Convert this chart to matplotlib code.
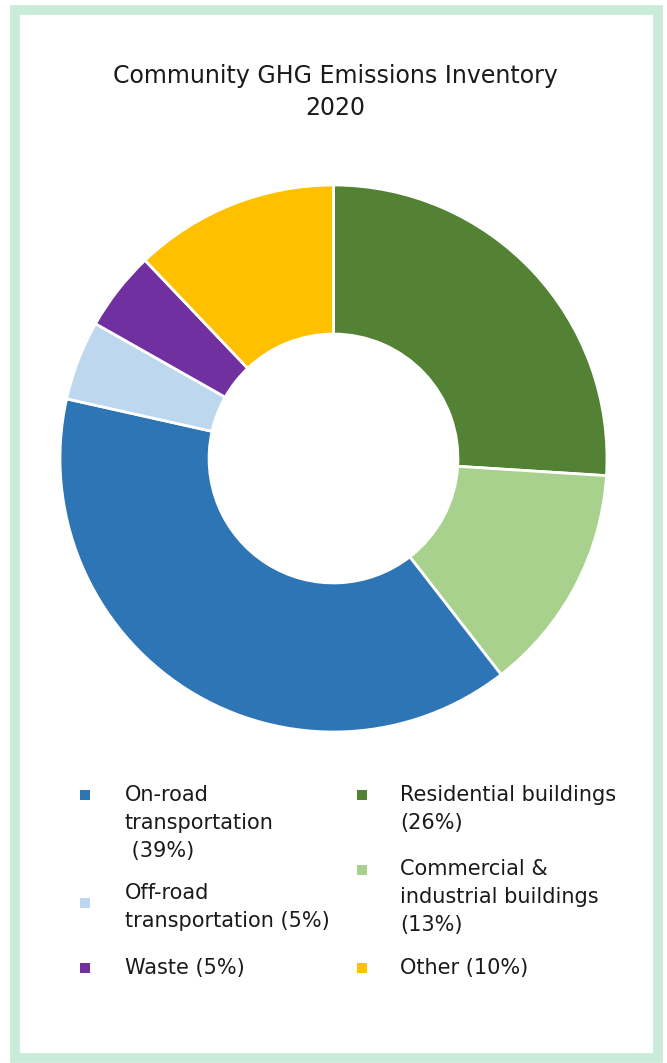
import matplotlib.pyplot as plt
import matplotlib.patches as mpatches

W, H = 667, 1063

# slices, clockwise from 12 o'clock
sectors = ["Residential buildings", "Commercial & industrial buildings",
           "On-road transportation", "Off-road transportation", "Waste", "Other"]
shares = [26.0, 13.5, 39.0, 4.7, 4.7, 12.1]
colors = ["#548235", "#a9d18e", "#2e75b6", "#bdd7ee", "#7030a0", "#ffc000"]

# legend text as printed (left column, right column)
legend_left = [("On-road\ntransportation\n (39%)", "#2e75b6"),
               ("Off-road\ntransportation (5%)", "#bdd7ee"),
               ("Waste (5%)", "#7030a0")]
legend_right = [("Residential buildings\n(26%)", "#548235"),
                ("Commercial &\nindustrial buildings\n(13%)", "#a9d18e"),
                ("Other (10%)", "#ffc000")]

plt.rcParams["font.family"] = ["DejaVu Sans"]

fig = plt.figure(figsize=(W / 100, H / 100), dpi=100)
fig.patch.set_facecolor("white")


def fx(px):
    return px / W


def fy(py):
    return 1 - py / H


# light green frame
frame = mpatches.Rectangle((fx(14.5), fy(1058)), fx(657.5) - fx(14.5), fy(9.5) - fy(1058),
                           transform=fig.transFigure, fill=False,
                           edgecolor="#c9ebda", linewidth=7)
fig.patches.append(frame)

fig.text(fx(335), fy(92), "Community GHG Emissions Inventory\n2020",
         ha="center", va="center", fontsize=17, color="#1a1a1a",
         linespacing=1.45)

# donut
cx, cy, r = 333.5, 458.5, 273.5
ax = fig.add_axes([fx(cx - r), fy(cy + r), 2 * r / W, 2 * r / H])
ax.pie(shares, colors=colors, startangle=90, counterclock=False, radius=1,
       wedgeprops=dict(width=0.545, edgecolor="white", linewidth=2))
ax.set_xlim(-1.0, 1.0)
ax.set_ylim(-1.0, 1.0)
ax.axis("off")

# legend, drawn by hand (y = centre of the first text line)
rows_left = [795, 893, 968]
marks_left = [795, 903, 968]
rows_right = [795, 869, 968]
marks_right = [795, 870, 968]

fs = 15
for col_x, txt_x, entries, rows, marks in [
        (80, 125, legend_left, rows_left, marks_left),
        (357, 400, legend_right, rows_right, marks_right)]:
    for (txt, col), ty, my in zip(entries, rows, marks):
        fig.patches.append(mpatches.Rectangle((fx(col_x), fy(my + 5)), 10 / W, 10 / H,
                                              transform=fig.transFigure,
                                              facecolor=col, edgecolor="none"))
        fig.text(fx(txt_x), fy(ty - 10), txt, ha="left", va="top", fontsize=fs,
                 color="#1a1a1a", linespacing=1.5)

fig.savefig("out.png", dpi=100, facecolor="white")
